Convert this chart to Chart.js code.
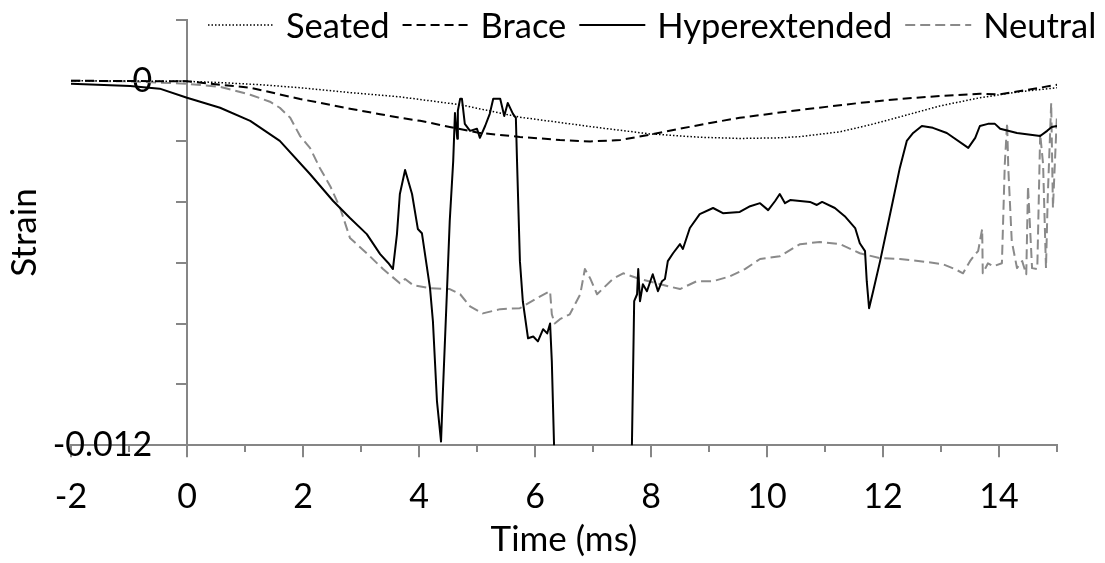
<!DOCTYPE html>
<html>
<head>
<meta charset="utf-8">
<title>Strain vs time</title>
<script src="https://cdn.jsdelivr.net/npm/chart.js@4.4.1/dist/chart.umd.min.js"></script>
<style>
  html, body { margin: 0; padding: 0; background: #fff; }
  #wrap { width: 1105px; height: 563px; position: relative; }
</style>
</head>
<body>
<div id="wrap"><canvas id="chart"></canvas></div>
<script>
// readings taken off the gauge traces, time in ms, strain unitless
const seatedTime = [-2, -1, 0, 0.57, 1.26, 1.95, 2.81, 3.67, 4.71, 5.74, 7.12, 7.98, 8.84, 9.53, 10.22, 10.57, 11.26, 11.78, 12.29, 12.98, 13.67, 14.36, 15];
const seatedStrain = [0, -0.00001, -0.00002, -0.00006, -0.00013, -0.00023, -0.00039, -0.00053, -0.00079, -0.0012, -0.00155, -0.00175, -0.00186, -0.0019, -0.00188, -0.00184, -0.00168, -0.00145, -0.00119, -0.00083, -0.00056, -0.00036, -0.00023];

const braceTime = [-2, -1, 0, 1.09, 1.95, 2.81, 3.33, 3.67, 4.02, 4.53, 5.05, 5.74, 6.43, 6.95, 7.47, 7.98, 8.5, 9.02, 9.53, 10.57, 11.6, 12.3, 12.98, 13.67, 14.0, 14.5, 15];
const braceStrain = [0, -0.00001, -0.00002, -0.00023, -0.0006, -0.00092, -0.0011, -0.00122, -0.00132, -0.00152, -0.00172, -0.00185, -0.00195, -0.002, -0.00195, -0.00178, -0.00158, -0.00139, -0.00122, -0.00096, -0.00073, -0.0006, -0.0005, -0.00043, -0.00045, -0.0003, -0.00013];

const hyperTime = [-2, -0.98, -0.47, 0, 0.57, 1.09, 1.6, 2.12, 2.52, 2.81, 3.1, 3.33, 3.47, 3.55, 3.62, 3.67, 3.76, 3.88, 3.98, 4.05, 4.19, 4.24, 4.31, 4.38, 4.41, 4.48, 4.53, 4.59, 4.62, 4.66, 4.67, 4.71, 4.74, 4.79, 4.88, 5.0, 5.05, 5.14, 5.22, 5.28, 5.4, 5.47, 5.53, 5.62, 5.67, 5.69, 5.74, 5.79, 5.88, 5.97, 6.05, 6.14, 6.21, 6.26, 6.29, 6.33, 6.38, 7.6, 7.63, 7.67, 7.71, 7.76, 7.78, 7.81, 7.86, 7.93, 8.03, 8.12, 8.19, 8.24, 8.29, 8.38, 8.5, 8.55, 8.67, 8.84, 9.07, 9.24, 9.53, 9.71, 9.88, 10.02, 10.14, 10.22, 10.31, 10.4, 10.74, 10.86, 10.95, 11.17, 11.34, 11.52, 11.6, 11.69, 11.72, 11.76, 11.83, 11.95, 12.17, 12.29, 12.41, 12.52, 12.67, 12.86, 13.1, 13.47, 13.59, 13.67, 13.81, 13.93, 14.02, 14.31, 14.71, 14.83, 14.91, 15];
const hyperStrain = [-0.0001, -0.00017, -0.00026, -0.00056, -0.00089, -0.00132, -0.00198, -0.00307, -0.00396, -0.00452, -0.00505, -0.00571, -0.006, -0.0062, -0.00505, -0.00373, -0.00294, -0.00373, -0.00488, -0.00502, -0.00683, -0.00792, -0.01056, -0.01188, -0.01033, -0.00703, -0.00462, -0.00264, -0.00106, -0.00191, -0.00099, -0.00059, -0.00059, -0.00142, -0.00165, -0.00158, -0.00188, -0.00149, -0.00109, -0.00059, -0.00059, -0.00116, -0.00073, -0.00109, -0.00122, -0.00264, -0.00594, -0.00726, -0.00848, -0.00842, -0.00858, -0.00818, -0.00832, -0.00799, -0.00924, -0.01211, -0.0158, -0.0158, -0.0158, -0.01211, -0.00726, -0.00703, -0.0062, -0.00726, -0.0067, -0.00693, -0.00637, -0.00693, -0.0066, -0.00653, -0.00594, -0.00568, -0.00538, -0.00554, -0.00485, -0.00439, -0.00419, -0.00436, -0.00432, -0.00413, -0.00403, -0.00426, -0.00396, -0.00373, -0.00403, -0.00393, -0.00399, -0.00409, -0.00399, -0.00419, -0.00446, -0.00485, -0.00535, -0.00561, -0.0066, -0.00749, -0.00693, -0.00594, -0.00396, -0.00287, -0.00198, -0.00172, -0.00149, -0.00155, -0.00172, -0.00221, -0.00188, -0.00149, -0.00142, -0.00142, -0.00158, -0.00172, -0.00182, -0.00165, -0.00152, -0.00149];

const neutralTime = [-2, -0.98, 0, 0.57, 1.09, 1.43, 1.6, 1.78, 1.95, 2.12, 2.29, 2.47, 2.64, 2.81, 3.1, 3.38, 3.53, 3.67, 3.76, 3.9, 4.19, 4.53, 4.71, 4.88, 5.1, 5.4, 5.74, 6.09, 6.26, 6.29, 6.34, 6.43, 6.6, 6.78, 6.86, 6.95, 7.07, 7.34, 7.52, 7.81, 8.16, 8.5, 8.79, 9.07, 9.36, 9.62, 9.88, 10.22, 10.57, 10.91, 11.26, 11.6, 11.95, 12.29, 12.64, 13.03, 13.24, 13.38, 13.5, 13.59, 13.64, 13.71, 13.72, 13.81, 13.9, 14.05, 14.1, 14.14, 14.16, 14.22, 14.31, 14.4, 14.47, 14.5, 14.57, 14.66, 14.71, 14.76, 14.81, 14.84, 14.9, 14.93, 15];
const neutralStrain = [0, -0.00002, -0.0001, -0.0002, -0.00046, -0.00069, -0.00089, -0.00122, -0.00182, -0.00221, -0.00287, -0.00347, -0.00419, -0.00518, -0.00568, -0.0062, -0.00644, -0.00667, -0.00653, -0.00673, -0.00683, -0.00686, -0.00703, -0.00743, -0.00766, -0.00752, -0.00749, -0.0071, -0.00693, -0.00769, -0.00799, -0.00785, -0.00769, -0.00703, -0.0062, -0.0065, -0.00703, -0.00653, -0.00634, -0.00653, -0.0067, -0.00686, -0.0066, -0.0066, -0.00644, -0.0062, -0.00587, -0.00578, -0.00538, -0.00531, -0.00538, -0.00568, -0.00584, -0.00587, -0.00594, -0.00604, -0.0062, -0.00634, -0.00594, -0.00571, -0.00561, -0.00488, -0.00634, -0.00601, -0.00611, -0.00601, -0.00274, -0.00139, -0.00287, -0.00528, -0.00617, -0.00594, -0.00637, -0.00347, -0.00617, -0.0062, -0.00175, -0.00274, -0.00617, -0.00386, -0.00073, -0.00419, -0.00109];

const timeMin = -2;
const timeMax = 15;
const strainMin = -0.012;
const strainMax = 0.002;
const strainLabels = ['0', '-0.012'];

const axisGray = '#868686';
const neutralGray = '#8a8a8a';
const fontFamily = 'Lato, "Open Sans", sans-serif';
const tickFont = { family: fontFamily, size: 34 };
const titleFont = { family: fontFamily, size: 35 };
// labels sit a bit away from the y axis, like the original
const labelGap = '\u00a0\u00a0\u00a0\u00a0';

function toPoints(times, values) {
    return times.map(function(t, i) { return { x: t, y: values[i] }; });
}

// legend drawn by hand so it can sit over the plot like the original
const lineLegend = {
    id: 'lineLegend',
    afterDraw: function(chart, args, opts) {
        const ctx = chart.ctx;
        ctx.save();
        ctx.font = opts.size + 'px ' + fontFamily;
        ctx.textBaseline = 'alphabetic';
        let x = opts.left;
        chart.data.datasets.forEach(function(ds) {
            ctx.beginPath();
            ctx.setLineDash(ds.borderDash || []);
            ctx.strokeStyle = ds.borderColor;
            ctx.lineWidth = ds.borderWidth;
            ctx.moveTo(x, opts.lineY);
            ctx.lineTo(x + opts.sample, opts.lineY);
            ctx.stroke();
            ctx.setLineDash([]);
            x += opts.sample + opts.gap;
            ctx.fillStyle = '#000';
            ctx.fillText(ds.label, x, opts.baseline);
            x += ctx.measureText(ds.label).width + opts.spacing;
        });
        ctx.restore();
    }
};

const config = {
    type: 'line',
    data: {
        datasets: [
            {
                label: 'Seated',
                data: toPoints(seatedTime, seatedStrain),
                borderColor: '#000',
                borderWidth: 1.5,
                borderDash: [1.5, 2],
            },
            {
                label: 'Brace',
                data: toPoints(braceTime, braceStrain),
                borderColor: '#000',
                borderWidth: 2,
                borderDash: [9, 5],
            },
            {
                label: 'Hyperextended',
                data: toPoints(hyperTime, hyperStrain),
                borderColor: '#000',
                borderWidth: 2,
            },
            {
                label: 'Neutral',
                data: toPoints(neutralTime, neutralStrain),
                borderColor: neutralGray,
                borderWidth: 2,
                borderDash: [10, 5],
            }
        ]
    },
    options: {
        animation: false,
        responsive: true,
        maintainAspectRatio: false,
        parsing: false,
        elements: {
            point: { radius: 0 },
            line: { tension: 0, fill: false, borderJoinStyle: 'round' }
        },
        layout: { padding: { left: 0, right: 48, top: 20, bottom: 0 } },
        plugins: {
            legend: { display: false },
            tooltip: { enabled: false },
            lineLegend: { left: 208, lineY: 25, baseline: 38, sample: 66, gap: 12, spacing: 13, size: 34.5 }
        },
        scales: {
            x: {
                type: 'linear',
                position: 'bottom',
                min: timeMin,
                max: timeMax,
                border: { color: axisGray, width: 2 },
                grid: {
                    drawOnChartArea: false,
                    tickLength: 12,
                    lineWidth: 2,
                    tickColor: function(c) {
                        return (c.tick && c.tick.value % 2 === 0) ? axisGray : 'rgba(0,0,0,0)';
                    }
                },
                ticks: {
                    stepSize: 2,
                    includeBounds: false,
                    autoSkip: false,
                    maxRotation: 0,
                    padding: 19,
                    color: '#000',
                    font: tickFont,
                    callback: function(v) { return v % 2 === 0 ? String(v) : ''; }
                },
                title: { display: true, text: 'Time (ms)', color: '#000', font: titleFont, padding: { top: -17, bottom: 2 } }
            },
            xMinor: {
                type: 'linear',
                axis: 'x',
                position: { y: strainMin },
                min: timeMin,
                max: timeMax,
                border: { display: false },
                grid: { drawOnChartArea: false, tickLength: 7, lineWidth: 2, tickColor: axisGray },
                ticks: { display: false, stepSize: 1 }
            },
            y: {
                type: 'linear',
                position: { x: 0 },
                min: strainMin,
                max: strainMax,
                border: { color: axisGray, width: 2 },
                grid: { drawOnChartArea: false, tickLength: 10, lineWidth: 2, tickColor: axisGray },
                ticks: {
                    stepSize: 0.002,
                    autoSkip: false,
                    color: '#000',
                    font: tickFont,
                    callback: function(v) {
                        if (Math.abs(v) < 1e-9) return strainLabels[0] + labelGap;
                        if (Math.abs(v - strainMin) < 1e-9) return strainLabels[1] + labelGap;
                        return '';
                    }
                },
                afterFit: function(scale) {
                    scale.paddingTop = 0;
                    scale.paddingBottom = 0;
                }
            },
            yTitle: {
                type: 'linear',
                axis: 'y',
                position: 'left',
                min: 0,
                max: 1,
                border: { display: false },
                grid: { display: false, drawTicks: false },
                ticks: { display: false },
                title: { display: true, text: 'Strain', color: '#000', font: titleFont, padding: { top: 4, bottom: 25 } }
            }
        }
    },
    plugins: [lineLegend]
};

window.strainChart = new Chart(document.getElementById('chart'), config);
</script>
</body>
</html>
